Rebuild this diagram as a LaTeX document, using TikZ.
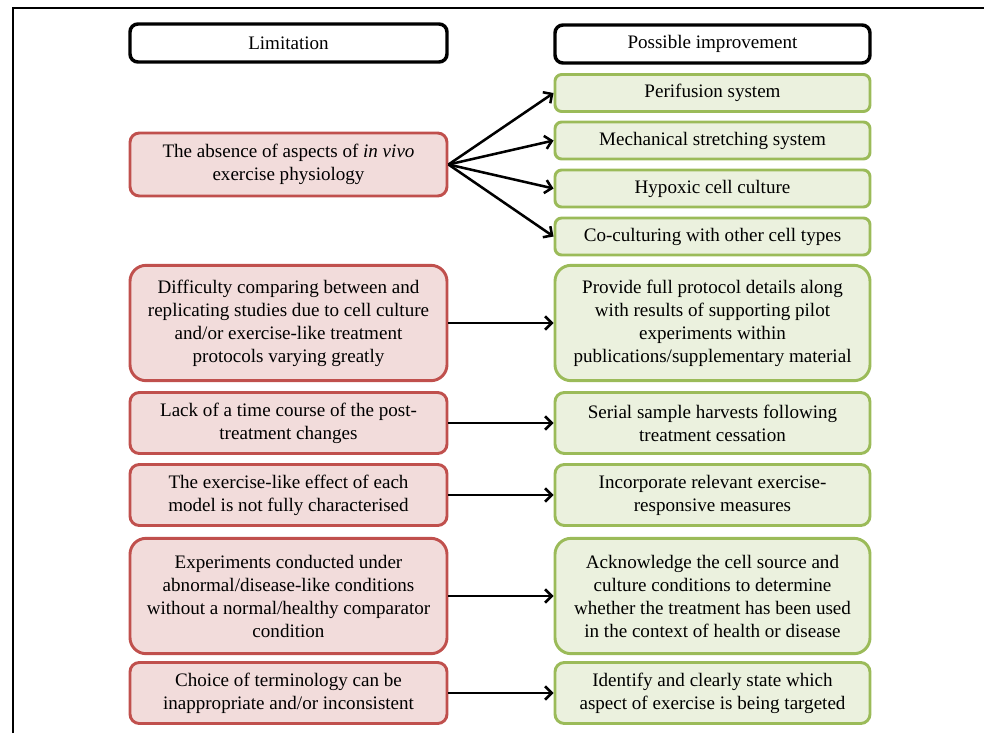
\documentclass[tikz,border=0pt]{standalone}
\usepackage{fontspec}
\setmainfont{Liberation Serif}
\usepackage{tikz}
\usetikzlibrary{arrows.meta}
\definecolor{limitred}{RGB}{192, 80, 77}
\definecolor{limitfill}{RGB}{242, 220, 219}
\definecolor{improvegreen}{RGB}{155, 187, 89}
\definecolor{improvefill}{RGB}{235, 241, 222}

\begin{document}
\begin{tikzpicture}[
        x=0.75pt, y=-0.75pt,
        every node/.style={font=\fontsize{14.3}{17.25}\selectfont, align=center, inner sep=0pt},
        header/.style={rectangle, rounded corners=6pt, draw=black, line width=2.6pt, fill=white, minimum height=28.5pt},
        limit/.style={rectangle, rounded corners=7pt, draw=limitred, line width=2.2pt, fill=limitfill, minimum width=237.75pt},
        improve/.style={rectangle, rounded corners=7pt, draw=improvegreen, line width=2.2pt, fill=improvefill, minimum width=236.25pt},
        small/.style={minimum height=27.75pt, rounded corners=5pt},
        tall/.style={minimum height=86.5pt, rounded corners=12pt},
        flow/.style={-{Straight Barb[length=5pt, width=10pt]}, line width=1.9pt, black}
    ]
    \useasboundingbox (0,0) rectangle (984,733);
    % frame
    \draw[line width=1.6pt] (13,733) -- (13,8) -- (984,8);

    % Headers
    \node[header, minimum width=237.75pt] (limhead) at (288.5,43) {Limitation};
    \node[header, minimum width=236.25pt] (imphead) at (712.5,44) {Possible improvement};

    % Limitations
    \node[limit, minimum height=47.25pt] (invivo) at (288.5,164.5) {The absence of aspects of \textit{in vivo}\\ exercise physiology};
    \node[limit, tall] (protocol) at (288.5,323) {Difficulty comparing between and\\ replicating studies due to cell culture\\ and/or exercise-like treatment\\ protocols varying greatly};
    \node[limit, minimum height=45.75pt] (timecourse) at (288.5,423) {Lack of a time course of the post-\\ treatment changes};
    \node[limit, minimum height=45.75pt] (effect) at (288.5,495) {The exercise-like effect of each\\ model is not fully characterised};
    \node[limit, tall] (abnormal) at (288.5,596) {Experiments conducted under\\ abnormal/disease-like conditions\\ without a normal/healthy comparator\\ condition};
    \node[limit, minimum height=45.75pt] (terms) at (288.5,693) {Choice of terminology can be\\ inappropriate and/or inconsistent};

    % Improvements
    \node[improve, small] (perifusion) at (712.5,93) {Perifusion system};
    \node[improve, small] (stretch) at (712.5,140.5) {Mechanical stretching system};
    \node[improve, small] (hypoxic) at (712.5,188.5) {Hypoxic cell culture};
    \node[improve, small] (coculture) at (712.5,236.5) {Co-culturing with other cell types};
    \node[improve, tall] (details) at (712.5,323) {Provide full protocol details along\\ with results of supporting pilot\\ experiments within\\ publications/supplementary material};
    \node[improve, minimum height=45.75pt] (serial) at (712.5,423) {Serial sample harvests following\\ treatment cessation};
    \node[improve, minimum height=45.75pt] (measures) at (712.5,495) {Incorporate relevant exercise-\\ responsive measures};
    \node[improve, tall] (source) at (712.5,596) {Acknowledge the cell source and\\ culture conditions to determine\\ whether the treatment has been used\\ in the context of health or disease};
    \node[improve, minimum height=45.75pt] (target) at (712.5,693) {Identify and clearly state which\\ aspect of exercise is being targeted};

    % Arrows
    \foreach \to in {perifusion, stretch, hypoxic, coculture}
        \draw[flow] (invivo.east) -- (\to.west);
    \draw[flow] (protocol) -- (details);
    \draw[flow] (timecourse) -- (serial);
    \draw[flow] (effect) -- (measures);
    \draw[flow] (abnormal) -- (source);
    \draw[flow] (terms) -- (target);

\end{tikzpicture}
\end{document}
